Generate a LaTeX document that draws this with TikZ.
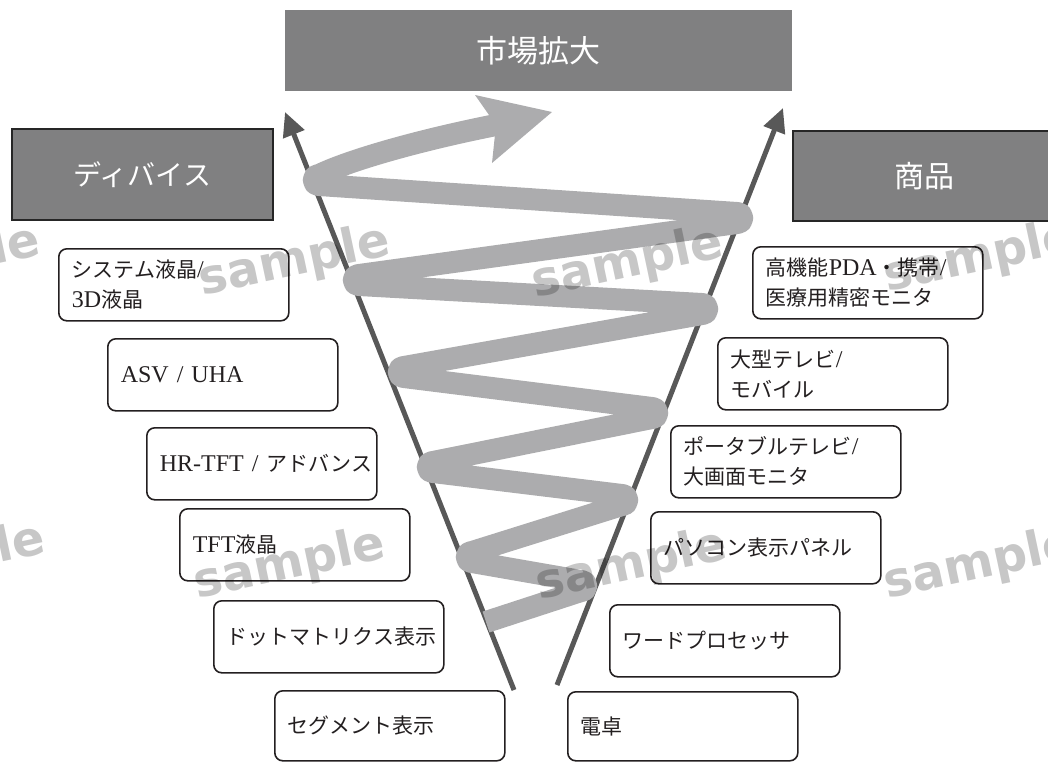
\documentclass[tikz,border=0pt]{standalone}
\usepackage{fontspec}
\setmainfont{Liberation Serif}
\newfontfamily\jp[Scale=0.875]{Noto Sans CJK JP}
\newfontfamily\jph{Noto Sans CJK JP}
\newfontfamily\wmfont{DejaVu Sans Bold}
\usetikzlibrary{arrows.meta}
\definecolor{hdgray}{RGB}{128,128,129}
\definecolor{spgray}{RGB}{172,172,174}
\definecolor{vgray}{RGB}{88,88,88}
\definecolor{txtblack}{RGB}{35,31,32}
\tikzset{
  header/.style={fill=hdgray, text=white, inner sep=0pt},
  sidehead/.style={header, draw=black!85, line width=1.4pt},
  itembox/.style={draw=txtblack, line width=1.6pt, rounded corners=8pt,
    minimum width=230pt, minimum height=72pt, text width=204pt,
    inner xsep=13pt, inner ysep=0pt, align=left, anchor=north west,
    font=\fontsize{24}{30}\selectfont, text=txtblack},
  varrow/.style={draw=vgray, line width=5pt, -{Triangle[length=24pt,width=22pt]}},
  spiral/.style={draw=spgray, line width=22pt, line join=round},
  wmark/.style={font=\wmfont\fontsize{48}{48}\selectfont, text=black, opacity=0.22, rotate=12}
}
\begin{document}
\begin{tikzpicture}[x=1pt,y=-1pt]
\useasboundingbox (0,0) rectangle (1048,761);
\clip (0,0) rectangle (1048,761);

% headers
\node[header, minimum width=507pt, minimum height=81pt,
      font=\jph\fontsize{31}{36}\selectfont] (title) at (538.5,50.5) {市場拡大};
\node[sidehead, minimum width=261pt, minimum height=91pt,
      font=\jph\fontsize{28}{34}\selectfont] (dev) at (142.5,174.5) {ディバイス};
\node[sidehead, minimum width=262pt, minimum height=90pt,
      font=\jph\fontsize{30}{36}\selectfont] (prod) at (924,176) {商品};

% V arrows
\coordinate (lb) at (514,690);
\coordinate (lt) at (285,112);
\coordinate (rb) at (557,685);
\coordinate (rt) at (783,108);
\draw[varrow] (lb) -- (lt);
\draw[varrow] (rb) -- (rt);

% spiral
\coordinate (s0) at (486,622);
\coordinate (t1) at (581,586);
\coordinate (t2) at (472,557);
\coordinate (t3) at (622,500);
\coordinate (t4) at (433,467);
\coordinate (t5) at (652,413);
\coordinate (t6) at (404,372);
\coordinate (t7) at (702,309);
\coordinate (t8) at (359,280);
\coordinate (t9) at (737,218);
\coordinate (t10) at (319,180);
\coordinate (send) at (496,125);
\draw[spiral] (s0)
  -- ([yshift=-5pt]t1) .. controls +(7,0) and +(7,0) .. ([yshift=5pt]t1)
  -- ([yshift=-5pt]t2) .. controls +(-7,0) and +(-7,0) .. ([yshift=5pt]t2)
  -- ([yshift=-5pt]t3) .. controls +(7,0) and +(7,0) .. ([yshift=5pt]t3)
  -- ([yshift=-5pt]t4) .. controls +(-7,0) and +(-7,0) .. ([yshift=5pt]t4)
  -- ([yshift=-5pt]t5) .. controls +(7,0) and +(7,0) .. ([yshift=5pt]t5)
  -- ([yshift=-5pt]t6) .. controls +(-7,0) and +(-7,0) .. ([yshift=5pt]t6)
  -- ([yshift=-5pt]t7) .. controls +(7,0) and +(7,0) .. ([yshift=5pt]t7)
  -- ([yshift=-5pt]t8) .. controls +(-7,0) and +(-7,0) .. ([yshift=5pt]t8)
  -- ([yshift=-5pt]t9) .. controls +(7,0) and +(7,0) .. ([yshift=5pt]t9)
  -- ([yshift=-5pt]t10) .. controls +(-7,0) and +(-7,0) .. ([yshift=5pt]t10)
  .. controls (350,160) and (420,140) .. (send);
\coordinate (ahtip) at (552,112);
\coordinate (ahb1) at (475,95);
\coordinate (ahb2) at (492,163);
\fill[spgray] (ahtip) -- (ahb1) -- (send) -- (ahb2) -- cycle;

% left boxes
\node[itembox] (l1) at (58,248) {{\jp システム液晶}/\\3D{\jp 液晶}};
\node[itembox] (l2) at (107,338) {ASV / UHA};
\node[itembox] (l3) at (146,427) {\mbox{HR-TFT / {\jp アドバンス}}};
\node[itembox] (l4) at (179,508) {TFT{\jp 液晶}};
\node[itembox] (l5) at (213,600) {{\jp ドットマトリクス表示}};
\node[itembox, minimum height=70pt] (l6) at (274,690) {{\jp セグメント表示}};

% right boxes
\node[itembox] (r1) at (752,246) {{\jp 高機能}PDA{\jp ・携帯}/\\{\jp 医療用精密モニタ}};
\node[itembox] (r2) at (717,337) {{\jp 大型テレビ}/\\{\jp モバイル}};
\node[itembox] (r3) at (670,425) {{\jp ポータブルテレビ}/\\{\jp 大画面モニタ}};
\node[itembox] (r4) at (650,511) {{\jp パソコン表示パネル}};
\node[itembox] (r5) at (609,604) {{\jp ワードプロセッサ}};
\node[itembox, minimum height=69pt] (r6) at (567,691) {{\jp 電卓}};

% watermarks
\node[wmark] (wm1) at (-55,262) {sample};
\node[wmark] (wm2) at (295,262) {sample};
\node[wmark] (wm3) at (628,264) {sample};
\node[wmark] (wm4) at (980,258) {sample};
\node[wmark] (wm5) at (-50,560) {sample};
\node[wmark] (wm6) at (290,565) {sample};
\node[wmark] (wm7) at (632,566) {sample};
\node[wmark] (wm8) at (980,565) {sample};
\end{tikzpicture}
\end{document}
